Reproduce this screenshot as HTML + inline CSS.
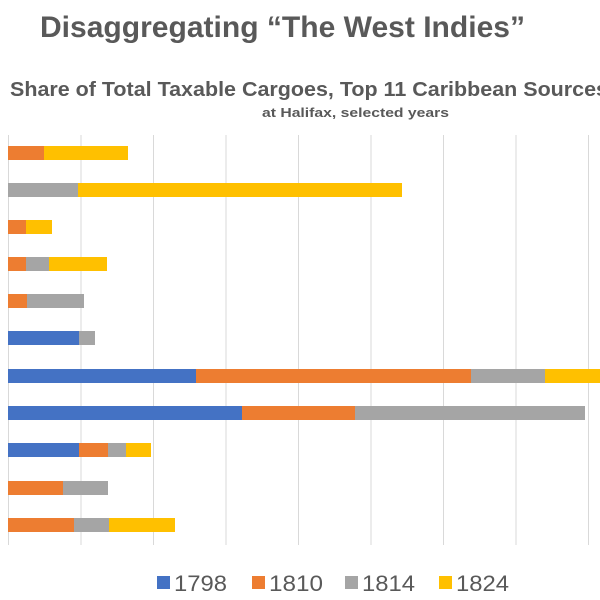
<!DOCTYPE html>
<html><head><style>body{margin:0;background:#fff}svg{display:block}</style></head>
<body>
<svg width="600" height="600" xmlns="http://www.w3.org/2000/svg" font-family="Liberation Sans, sans-serif">
<text x="40" y="37" font-size="30" font-weight="bold" fill="#595959" textLength="485" lengthAdjust="spacingAndGlyphs">Disaggregating “The West Indies”</text>
<text x="10" y="96" font-size="20" font-weight="bold" fill="#595959" textLength="598" lengthAdjust="spacingAndGlyphs">Share of Total Taxable Cargoes, Top 11 Caribbean Sources</text>
<text x="262" y="117" font-size="13" font-weight="bold" fill="#595959" textLength="187" lengthAdjust="spacingAndGlyphs">at Halifax, selected years</text>
<g stroke="#d9d9d9" stroke-width="1">
<line x1="8.5" y1="135" x2="8.5" y2="545"/><line x1="81" y1="135" x2="81" y2="545"/><line x1="153.5" y1="135" x2="153.5" y2="545"/><line x1="226" y1="135" x2="226" y2="545"/><line x1="298.5" y1="135" x2="298.5" y2="545"/><line x1="371" y1="135" x2="371" y2="545"/><line x1="443.5" y1="135" x2="443.5" y2="545"/><line x1="516" y1="135" x2="516" y2="545"/><line x1="588.5" y1="135" x2="588.5" y2="545"/>
</g>
<g>
<rect x="8" y="146" width="36" height="14" fill="#ed7d31"/><rect x="44" y="146" width="84" height="14" fill="#ffc000"/>
<rect x="8" y="183" width="70" height="14" fill="#a5a5a5"/><rect x="78" y="183" width="324" height="14" fill="#ffc000"/>
<rect x="8" y="220" width="18" height="14" fill="#ed7d31"/><rect x="26" y="220" width="26" height="14" fill="#ffc000"/>
<rect x="8" y="257" width="18" height="14" fill="#ed7d31"/><rect x="26" y="257" width="23" height="14" fill="#a5a5a5"/><rect x="49" y="257" width="58" height="14" fill="#ffc000"/>
<rect x="8" y="294" width="19" height="14" fill="#ed7d31"/><rect x="27" y="294" width="57" height="14" fill="#a5a5a5"/>
<rect x="8" y="331" width="71" height="14" fill="#4472c4"/><rect x="79" y="331" width="16" height="14" fill="#a5a5a5"/>
<rect x="8" y="369" width="188" height="14" fill="#4472c4"/><rect x="196" y="369" width="275" height="14" fill="#ed7d31"/><rect x="471" y="369" width="74" height="14" fill="#a5a5a5"/><rect x="545" y="369" width="55" height="14" fill="#ffc000"/>
<rect x="8" y="406" width="234" height="14" fill="#4472c4"/><rect x="242" y="406" width="113" height="14" fill="#ed7d31"/><rect x="355" y="406" width="230" height="14" fill="#a5a5a5"/>
<rect x="8" y="443" width="71" height="14" fill="#4472c4"/><rect x="79" y="443" width="29" height="14" fill="#ed7d31"/><rect x="108" y="443" width="18" height="14" fill="#a5a5a5"/><rect x="126" y="443" width="25" height="14" fill="#ffc000"/>
<rect x="8" y="481" width="55" height="14" fill="#ed7d31"/><rect x="63" y="481" width="45" height="14" fill="#a5a5a5"/>
<rect x="8" y="518" width="66" height="14" fill="#ed7d31"/><rect x="74" y="518" width="35" height="14" fill="#a5a5a5"/><rect x="109" y="518" width="66" height="14" fill="#ffc000"/>
</g>
<g font-size="22" fill="#595959">
<rect x="157" y="576" width="13" height="13" fill="#4472c4"/><text x="174" y="591" textLength="53" lengthAdjust="spacingAndGlyphs">1798</text>
<rect x="252" y="576" width="13" height="13" fill="#ed7d31"/><text x="269" y="591" textLength="54" lengthAdjust="spacingAndGlyphs">1810</text>
<rect x="345" y="576" width="13" height="13" fill="#a5a5a5"/><text x="362" y="591" textLength="53" lengthAdjust="spacingAndGlyphs">1814</text>
<rect x="439" y="576" width="13" height="13" fill="#ffc000"/><text x="456" y="591" textLength="53" lengthAdjust="spacingAndGlyphs">1824</text>
</g>
</svg>
</body></html>
